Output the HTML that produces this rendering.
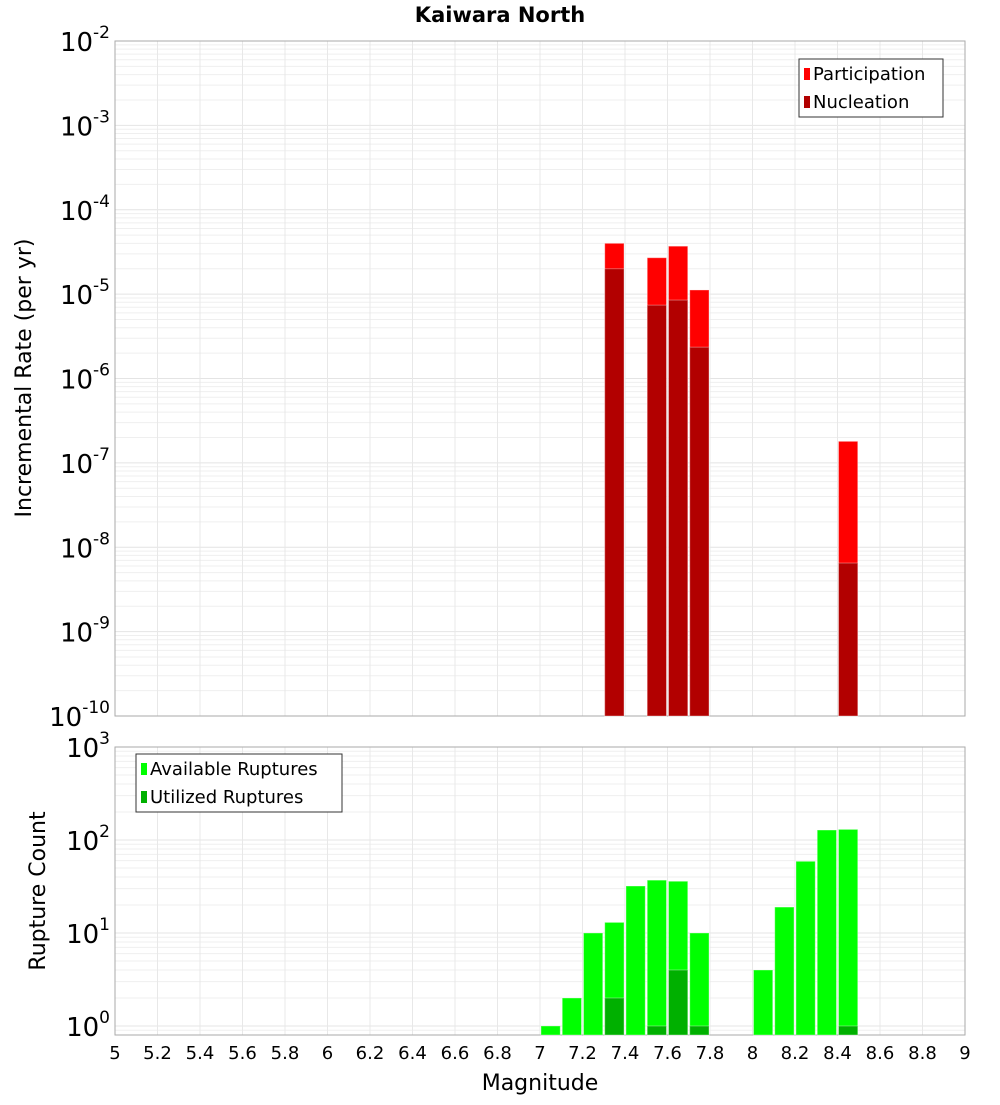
<!DOCTYPE html>
<html><head><meta charset="utf-8"><style>
body{margin:0;background:#fff;font-family:"Liberation Sans","DejaVu Sans",sans-serif}
svg text{font-family:"DejaVu Sans","Liberation Sans",sans-serif}
</style></head><body>
<svg id="c" width="1000" height="1100" xmlns="http://www.w3.org/2000/svg">
<text x="500" y="22" text-anchor="middle" font-size="21" font-weight="bold">Kaiwara North</text>
<g id="top"></g>
<g id="bot"></g>
<text x="31" y="378" transform="rotate(-90 31 378)" text-anchor="middle" font-size="22">Incremental Rate (per yr)</text>
<text x="45" y="891" transform="rotate(-90 45 891)" text-anchor="middle" font-size="22">Rupture Count</text>
<text x="540" y="1090" text-anchor="middle" font-size="22">Magnitude</text>
</svg>
<script>
const rateMags=[7.35,7.55,7.65,7.75,8.45];
const participation=[4.0e-5,2.7e-5,3.7e-5,1.12e-5,1.8e-7];
const nucleation=[2.0e-5,7.4e-6,8.5e-6,2.35e-6,6.5e-9];
const countMags=[7.05,7.15,7.25,7.35,7.45,7.55,7.65,7.75,8.05,8.15,8.25,8.35,8.45];
const available=[1,2,10,13,32,37,36,10,4,19,59,128,130];
const utilizedMags=[7.35,7.55,7.65,7.75,8.45];
const utilized=[2,1,4,1,1];
const xTicks=[5,5.2,5.4,5.6,5.8,6,6.2,6.4,6.6,6.8,7,7.2,7.4,7.6,7.8,8,8.2,8.4,8.6,8.8,9];
const NS='http://www.w3.org/2000/svg';
const L=115,R=965;
const X=m=>L+(m-5)/4*(R-L);
const T={top:41,bot:716,lmax:-2,lmin:-10};
const B={top:747,bot:1035,lmax:3,lmin:Math.log10(0.8)};
const Y=(p,v)=>p.top+(p.lmax-Math.log10(v))/(p.lmax-p.lmin)*(p.bot-p.top);
function el(g,tag,a){const e=document.createElementNS(NS,tag);for(const k in a)e.setAttribute(k,a[k]);g.appendChild(e);return e;}
function panel(g,p,d0,d1){
  for(let d=d0;d<d1;d++)for(let k=1;k<10;k++){const y=Y(p,k*Math.pow(10,d));if(y<p.top||y>p.bot)continue;
    const l=el(g,'line',{x1:L,x2:R,y1:y,y2:y,stroke:k==1?'#e4e4e4':'#efefef','stroke-width':1});
    }
  xTicks.forEach(t=>{const l=el(g,'line',{x1:X(t),x2:X(t),y1:p.top,y2:p.bot,stroke:'#e8e8e8'});
    });
  const r=el(g,'rect',{x:L,y:p.top,width:R-L,height:p.bot-p.top,fill:'none',stroke:'#aaa'});
  
}
function ylabel(g,p,d){const y=Y(p,Math.pow(10,d));
  const t=el(g,'text',{x:110,y:y+10,'text-anchor':'end','font-size':26});
  
  t.textContent='10';const s=el(t,'tspan',{dy:-13,'font-size':17});s.textContent=String(d);}
function bar(g,m,v,p,fill,name){const w=(X(5.1)-X(5))-2;const y=Y(p,v);
  const r=el(g,'rect',{x:X(m)-w/2,y:y,width:w,height:p.bot-y,fill:fill,stroke:'rgba(255,255,255,0.35)'});
  }
const gt=document.getElementById('top'),gb=document.getElementById('bot');
panel(gt,T,-10,-2);panel(gb,B,-1,3);
rateMags.forEach((m,i)=>bar(gt,m,participation[i],T,'#ff0000','participation-bar'));
rateMags.forEach((m,i)=>bar(gt,m,nucleation[i],T,'#b20000','nucleation-bar'));
countMags.forEach((m,i)=>bar(gb,m,available[i],B,'#00ff00','available-bar'));
utilizedMags.forEach((m,i)=>bar(gb,m,utilized[i],B,'#00b000','utilized-bar'));
for(let d=-10;d<=-2;d++)ylabel(gt,T,d);
for(let d=0;d<=3;d++)ylabel(gb,B,d);
xTicks.forEach(t=>{const e=el(gb,'text',{x:X(t),y:1059,'text-anchor':'middle','font-size':18});
  e.textContent=String(t);});
function legend(g,x,y,w,items){const r=el(g,'rect',{x:x,y:y,width:w,height:58,fill:'#fff',stroke:'#333'});
  
  items.forEach((it,i)=>{const s=el(g,'rect',{x:x+5,y:y+9+i*28,width:6,height:12,fill:it[1]});
    
    const t=el(g,'text',{x:x+14,y:y+21+i*28,'font-size':18});
    t.textContent=it[0];});}
legend(gt,799,59,144,[['Participation','#ff0000'],['Nucleation','#b20000']]);
legend(gb,136,754,206,[['Available Ruptures','#00ff00'],['Utilized Ruptures','#00b000']]);
</script>
</body></html>
